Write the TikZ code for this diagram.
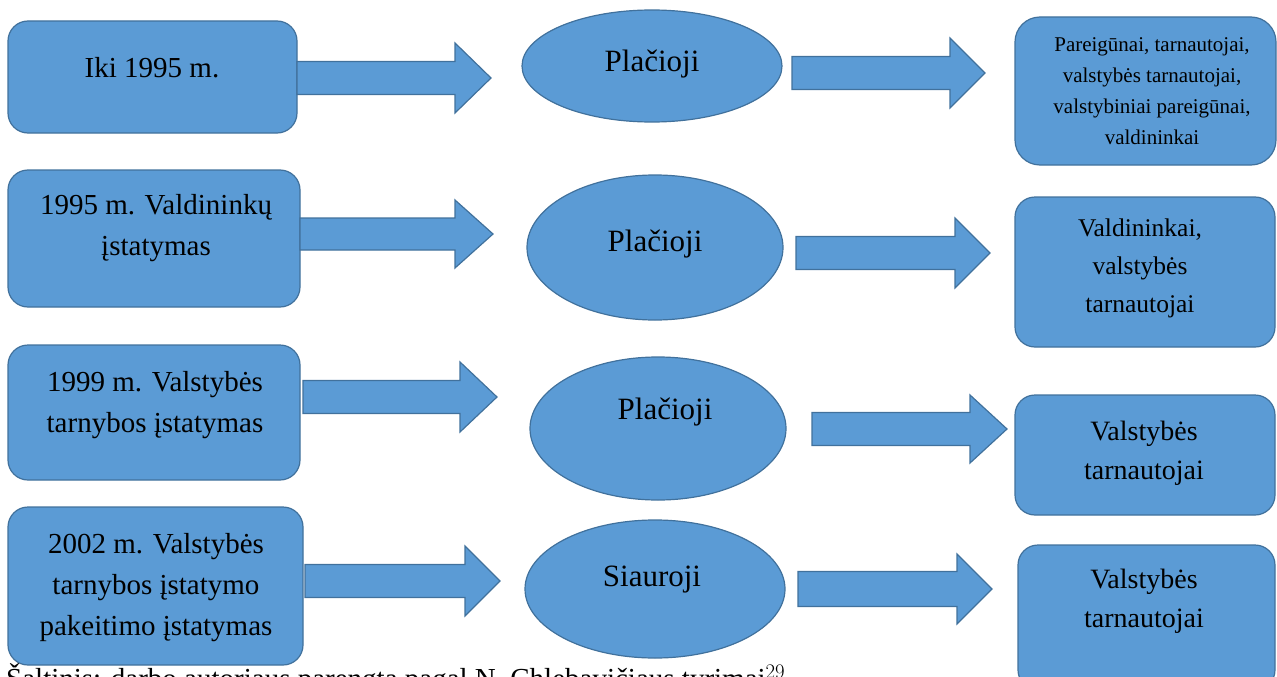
\documentclass[tikz,border=0pt]{standalone}
\usepackage{fontspec}
\setmainfont{Liberation Serif}
\usetikzlibrary{shapes.geometric}
\definecolor{boxblue}{HTML}{5B9BD5}
\definecolor{boxedge}{HTML}{41719C}
\newcommand\blockarrow[6]{% x1, x2(tip), xh(head start), yc, shaft half, head half
  \draw[blk] (#1,{#4-#5}) -- (#3,{#4-#5}) -- (#3,{#4-#6}) -- (#2,#4) -- (#3,{#4+#6}) -- (#3,{#4+#5}) -- (#1,{#4+#5}) -- cycle;}
\begin{document}
\begin{tikzpicture}[x=1pt,y=-1pt,
  blk/.style={fill=boxblue, draw=boxedge, line width=1.2pt},
  rbox/.style={blk, rectangle, rounded corners=20pt, inner sep=0pt, outer sep=0pt},
  oval/.style={blk, ellipse, inner sep=0pt, outer sep=0pt},
  txt/.style={align=center, inner sep=0pt, text=black},
  big/.style={font=\fontsize{29}{41}\selectfont},
  ovtxt/.style={font=\fontsize{31}{40}\selectfont}]
\useasboundingbox (0,0) rectangle (1277,677);

% left boxes
\node[rbox, minimum width=289pt, minimum height=112pt] (b1) at (152.5,77) {};
\node[rbox, minimum width=292pt, minimum height=137pt] (b2) at (154,238.5) {};
\node[rbox, minimum width=292pt, minimum height=135pt] (b3) at (154,412.5) {};
\node[rbox, minimum width=295pt, minimum height=158pt] (b4) at (155.5,586) {};

\node[txt, big] (t1) at (152,68) {Iki 1995 m.};
\node[txt, big] (t2) at (156,228) {1995 m. Valdininkų\\įstatymas};
\node[txt, big] (t3) at (155,405) {1999 m. Valstybės\\tarnybos įstatymas};
\node[txt, big] (t4) at (156,588) {2002 m. Valstybės\\tarnybos įstatymo\\pakeitimo įstatymas};

% ellipses
\node[oval, minimum width=260pt, minimum height=112pt] (e1) at (652,66) {};
\node[oval, minimum width=256pt, minimum height=145pt] (e2) at (655,247.5) {};
\node[oval, minimum width=256pt, minimum height=143pt] (e3) at (658,428.5) {};
\node[oval, minimum width=260pt, minimum height=138pt] (e4) at (655,589) {};

\node[txt, ovtxt] (p1) at (652,64) {Plačioji};
\node[txt, ovtxt] (p2) at (655,244) {Plačioji};
\node[txt, ovtxt] (p3) at (665,412) {Plačioji};
\node[txt, ovtxt] (p4) at (652,580) {Siauroji};

% right boxes
\node[rbox, rounded corners=25pt, minimum width=261pt, minimum height=148pt] (r1) at (1145.5,91) {};
\node[rbox, minimum width=260pt, minimum height=150pt] (r2) at (1145,272) {};
\node[rbox, minimum width=260pt, minimum height=120pt] (r3) at (1145,455) {};
\node[rbox, minimum width=257pt, minimum height=145pt] (r4) at (1146.5,617.5) {};

\node[txt, font=\fontsize{21}{31}\selectfont] (s1) at (1152,91) {Pareigūnai, tarnautojai,\\valstybės tarnautojai,\\valstybiniai pareigūnai,\\valdininkai};
\node[txt, font=\fontsize{25.5}{38}\selectfont] (s2) at (1140,268) {Valdininkai,\\valstybės\\tarnautojai};
\node[txt, font=\fontsize{28}{39}\selectfont] (s3) at (1144,453) {Valstybės\\tarnautojai};
\node[txt, font=\fontsize{28}{39}\selectfont] (s4) at (1144,601) {Valstybės\\tarnautojai};

% block arrows
\blockarrow{297}{491}{455}{78}{16.5}{35}
\blockarrow{792}{985}{950}{73}{16.5}{35}
\blockarrow{300}{493}{455}{234}{16}{34}
\blockarrow{796}{990}{955}{253}{16.5}{35}
\blockarrow{303}{497}{460}{397}{16.5}{35}
\blockarrow{812}{1007}{970}{429}{16.5}{34}
\blockarrow{305}{500}{465}{581}{16.5}{35}
\blockarrow{798}{992}{957}{589}{17.5}{35}

% caption (cut by the page edge, as in the source)
\node[anchor=base west, inner sep=0pt, font=\fontsize{29}{35}\selectfont] (cap) at (6,688) {Šaltinis: darbo autoriaus parengta pagal N. Chlebavičiaus tyrimai$^{29}$};
\end{tikzpicture}
\end{document}
